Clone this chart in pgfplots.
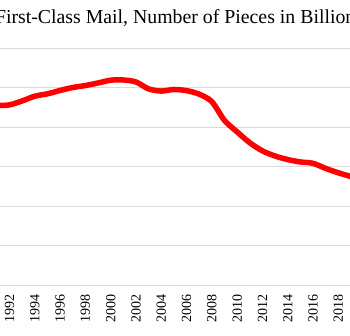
\documentclass[border=0pt]{standalone}
\usepackage{pgfplots}
\pgfplotsset{compat=1.18}
\usepackage{fontspec}
\setmainfont{Liberation Serif}
\definecolor{gridgray}{RGB}{217,217,217}
\definecolor{linered}{RGB}{255,0,0}
\begin{document}
\begin{tikzpicture}[x=1bp,y=1bp]
\begin{axis}[
  at={(0bp,0bp)}, anchor=south west,
  scale only axis,
  width=379.5bp, height=237bp,
  xmin=1990.5, xmax=2020.5,
  ymin=0, ymax=120,
  xtick={1992,1994,...,2018},
  xticklabels={1992,1994,1996,1998,2000,2002,2004,2006,2008,2010,2012,2014,2016,2018},
  ytick={0,20,...,120},
  yticklabels={},
  major tick length=0pt,
  ymajorgrids,
  major grid style={draw=gridgray, line width=0.9bp},
  axis line style={draw=none},
  xticklabel style={yshift=-9bp, rotate=90, anchor=east, inner sep=0pt, font=\fontsize{14bp}{16bp}\selectfont},
]
\addplot[linered, line width=5.5bp, smooth, tension=0.5, line join=round, line cap=round] coordinates {
(1990,89.6) (1991,90.8) (1992,91.2) (1993,93.2) (1994,95.6) (1995,96.8) (1996,98.5) (1997,100.0)
(1998,101.0) (1999,102.3) (2000,103.7) (2001,103.8) (2002,102.8) (2003,99.3) (2004,98.2)
(2005,99.0) (2006,98.4) (2007,96.6) (2008,92.8) (2009,83.3) (2010,77.5) (2011,72.0)
(2012,67.9) (2013,65.3) (2014,63.5) (2015,62.3) (2016,61.6) (2017,59.0) (2018,56.8) (2019,54.9)
};
\end{axis}
\node[anchor=base, inner sep=0pt, font=\fontsize{19.8bp}{22bp}\selectfont] at (188.5bp,261bp) {First-Class Mail, Number of Pieces in Billions};
\pgfresetboundingbox
\useasboundingbox (9.475bp,-51bp) rectangle (359.475bp,285bp);
\end{tikzpicture}
\end{document}
